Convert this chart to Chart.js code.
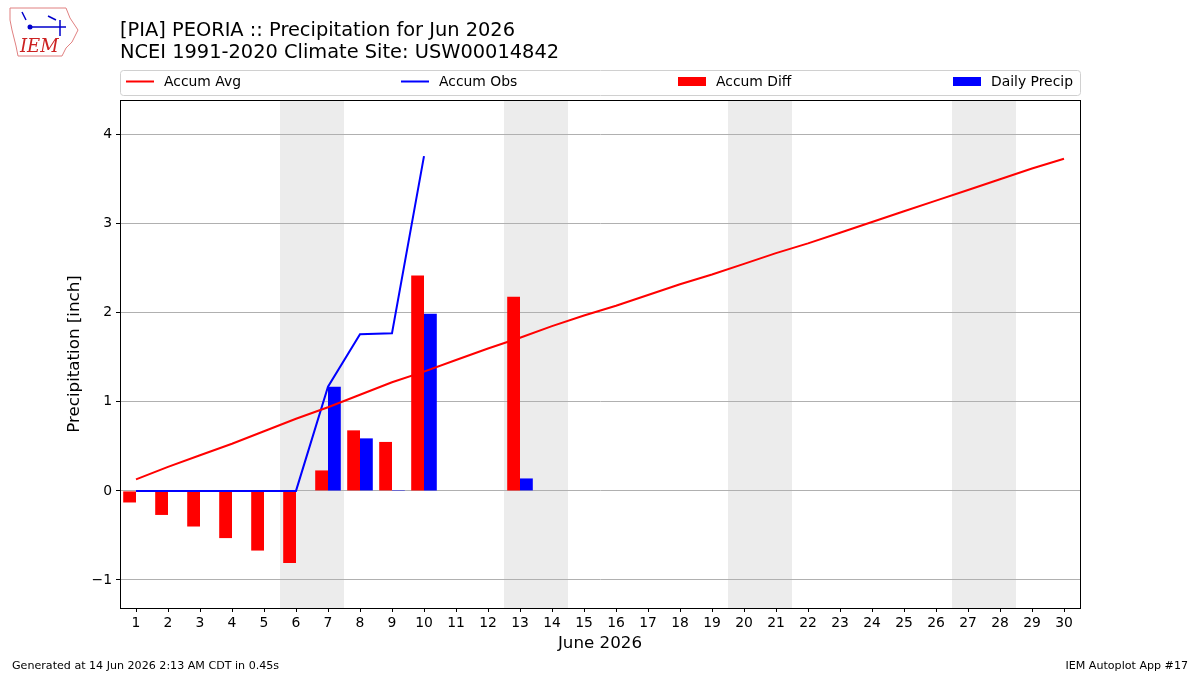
<!DOCTYPE html>
<html>
<head>
<meta charset="utf-8">
<script src="https://cdn.jsdelivr.net/npm/chart.js@4/dist/chart.umd.min.js"></script>
<style>
    html, body { margin: 0; padding: 0; background: #fff; }
    #wrap { width: 1200px; height: 675px; position: relative; }
</style>
</head>
<body>
<div id="wrap"><canvas id="chart" width="1200" height="675"></canvas></div>
<script>
// Days of the month and the values
const days = [1, 2, 3, 4, 5, 6, 7, 8, 9, 10, 11, 12, 13, 14, 15, 16, 17, 18, 19, 20,
    21, 22, 23, 24, 25, 26, 27, 28, 29, 30];
const accumAvg = [0.13, 0.27, 0.40, 0.53, 0.67, 0.81, 0.94, 1.08, 1.22, 1.34,
    1.47, 1.60, 1.72, 1.85, 1.97, 2.08, 2.20, 2.32, 2.43, 2.55,
    2.67, 2.78, 2.90, 3.02, 3.14, 3.26, 3.38, 3.50, 3.62, 3.73];
const accumObs = [0, 0, 0, 0, 0, 0, 1.17, 1.76, 1.77, 3.76];
const accumDiff = [-0.13, -0.27, -0.40, -0.53, -0.67, -0.81, 0.23, 0.68, 0.55, 2.42,
    null, null, 2.18];
const dailyPrecip = [0, 0, 0, 0, 0, 0, 1.17, 0.59, 0.01, 1.99,
    null, null, 0.14];
const weekendDays = [6, 7, 13, 14, 20, 21, 27, 28];
const yTicks = [-1, 0, 1, 2, 3, 4];

const FONT = "'DejaVu Sans', sans-serif";

const toPoints = (vals) => vals.map((v, i) => ({ x: days[i], y: v }));

// Gray weekend bands, drawn before the grid
const weekendPlugin = {
    id: 'weekends',
    beforeDraw(chart) {
        const { ctx, chartArea, scales } = chart;
        ctx.save();
        ctx.fillStyle = '#ececec';
        weekendDays.forEach(d => {
            const x0 = scales.x.getPixelForValue(d - 0.5);
            const x1 = scales.x.getPixelForValue(d + 0.5);
            ctx.fillRect(x0, chartArea.top, x1 - x0, chartArea.bottom - chartArea.top);
        });
        ctx.restore();
    }
};

// Titles, legend, frame, footer and logo
const decorPlugin = {
    id: 'decor',
    afterDraw(chart) {
        const { ctx, chartArea } = chart;
        ctx.save();

        // frame around the plot
        ctx.strokeStyle = '#000';
        ctx.lineWidth = 1;
        ctx.strokeRect(chartArea.left + 0.5, chartArea.top + 0.5,
            chartArea.right - chartArea.left, chartArea.bottom - chartArea.top);

        // title
        ctx.fillStyle = '#000';
        ctx.textAlign = 'left';
        ctx.textBaseline = 'alphabetic';
        ctx.font = '19.4px ' + FONT;
        ctx.fillText('[PIA] PEORIA :: Precipitation for Jun 2026', 120, 36);
        ctx.fillText('NCEI 1991-2020 Climate Site: USW00014842', 120, 58);

        // legend box
        ctx.strokeStyle = '#d0d0d0';
        ctx.lineWidth = 1;
        ctx.beginPath();
        ctx.roundRect(120.5, 70.5, 960, 25, 3);
        ctx.stroke();
        ctx.font = '13.9px ' + FONT;
        ctx.textBaseline = 'middle';
        const items = [
            { x: 126, kind: 'line', color: '#ff0000', label: 'Accum Avg' },
            { x: 401, kind: 'line', color: '#0000ff', label: 'Accum Obs' },
            { x: 678, kind: 'box', color: '#ff0000', label: 'Accum Diff' },
            { x: 953, kind: 'box', color: '#0000ff', label: 'Daily Precip' }
        ];
        items.forEach(it => {
            if (it.kind === 'line') {
                ctx.strokeStyle = it.color;
                ctx.lineWidth = 2;
                ctx.beginPath();
                ctx.moveTo(it.x, 81.5);
                ctx.lineTo(it.x + 28, 81.5);
                ctx.stroke();
            } else {
                ctx.fillStyle = it.color;
                ctx.fillRect(it.x, 77, 28, 9);
            }
            ctx.fillStyle = '#000';
            ctx.fillText(it.label, it.x + 38, 82);
        });

        // axis titles
        ctx.font = '16.7px ' + FONT;
        ctx.textAlign = 'center';
        ctx.fillText('June 2026', 600, 644);
        ctx.save();
        ctx.translate(75, 354);
        ctx.rotate(-Math.PI / 2);
        ctx.fillText('Precipitation [inch]', 0, 0);
        ctx.restore();

        // footer
        ctx.font = '11.1px ' + FONT;
        ctx.textAlign = 'left';
        ctx.fillText('Generated at 14 Jun 2026 2:13 AM CDT in 0.45s', 12, 666);
        ctx.textAlign = 'right';
        ctx.fillText('IEM Autoplot App #17', 1188, 666);

        // rough IEM logo
        ctx.strokeStyle = '#e08080';
        ctx.lineWidth = 1;
        ctx.beginPath();
        ctx.moveTo(10, 8);
        ctx.lineTo(66, 8);
        ctx.lineTo(70, 18);
        ctx.lineTo(78, 30);
        ctx.lineTo(72, 42);
        ctx.lineTo(66, 48);
        ctx.lineTo(62, 56);
        ctx.lineTo(18, 56);
        ctx.lineTo(16, 46);
        ctx.lineTo(12, 30);
        ctx.lineTo(10, 20);
        ctx.closePath();
        ctx.stroke();
        ctx.strokeStyle = '#0000cc';
        ctx.lineWidth = 1.5;
        ctx.beginPath();
        ctx.moveTo(28, 27);
        ctx.lineTo(66, 27);
        ctx.moveTo(48, 16);
        ctx.lineTo(56, 20);
        ctx.moveTo(60, 20);
        ctx.lineTo(60, 36);
        ctx.moveTo(22, 12);
        ctx.lineTo(26, 20);
        ctx.stroke();
        ctx.fillStyle = '#0000cc';
        ctx.beginPath();
        ctx.arc(30, 27, 2.5, 0, Math.PI * 2);
        ctx.fill();
        ctx.fillStyle = '#cc2222';
        ctx.font = 'italic 18px "DejaVu Serif", serif';
        ctx.textAlign = 'left';
        ctx.textBaseline = 'alphabetic';
        ctx.fillText('IEM', 20, 52);

        ctx.restore();
    }
};

new Chart(document.getElementById('chart'), {
    type: 'bar',
    data: {
        datasets: [
            {
                type: 'line',
                label: 'Accum Avg',
                data: toPoints(accumAvg),
                borderColor: '#ff0000',
                borderWidth: 2,
                pointRadius: 0,
                tension: 0,
                order: 0
            },
            {
                type: 'line',
                label: 'Accum Obs',
                data: toPoints(accumObs),
                borderColor: '#0000ff',
                borderWidth: 2,
                pointRadius: 0,
                tension: 0,
                order: 0
            },
            {
                label: 'Accum Diff',
                data: toPoints(accumDiff),
                backgroundColor: '#ff0000',
                categoryPercentage: 0.8,
                barPercentage: 1.0,
                order: 1
            },
            {
                label: 'Daily Precip',
                data: toPoints(dailyPrecip),
                backgroundColor: '#0000ff',
                categoryPercentage: 0.8,
                barPercentage: 1.0,
                order: 1
            }
        ]
    },
    options: {
        responsive: false,
        animation: false,
        layout: { padding: { left: 0, right: 120, top: 100, bottom: 0 } },
        plugins: {
            legend: { display: false },
            title: { display: false },
            tooltip: { enabled: false }
        },
        scales: {
            x: {
                type: 'linear',
                min: 0.5,
                max: 30.5,
                offset: false,
                afterBuildTicks: (scale) => {
                    scale.ticks = days.map(d => ({ value: d }));
                },
                afterFit: (scale) => { scale.height = 67; },
                grid: {
                    offset: false,
                    drawOnChartArea: false,
                    drawTicks: true,
                    tickLength: 4,
                    tickColor: '#000'
                },
                border: { color: '#000' },
                ticks: {
                    color: '#000',
                    font: { family: FONT, size: 13.9 },
                    padding: 3,
                    maxRotation: 0,
                    autoSkip: false
                }
            },
            y: {
                min: -1.315,
                max: 4.39,
                afterBuildTicks: (scale) => {
                    scale.ticks = yTicks.map(v => ({ value: v }));
                },
                afterFit: (scale) => { scale.width = 120; },
                grid: {
                    color: '#b0b0b0',
                    drawTicks: true,
                    tickLength: 4,
                    tickColor: '#000'
                },
                border: { color: '#000' },
                ticks: {
                    color: '#000',
                    font: { family: FONT, size: 13.9 },
                    padding: 4,
                    callback: (v) => (v < 0 ? '\u2212' + Math.abs(v) : String(v))
                }
            }
        }
    },
    plugins: [weekendPlugin, decorPlugin]
});
</script>
</body>
</html>
